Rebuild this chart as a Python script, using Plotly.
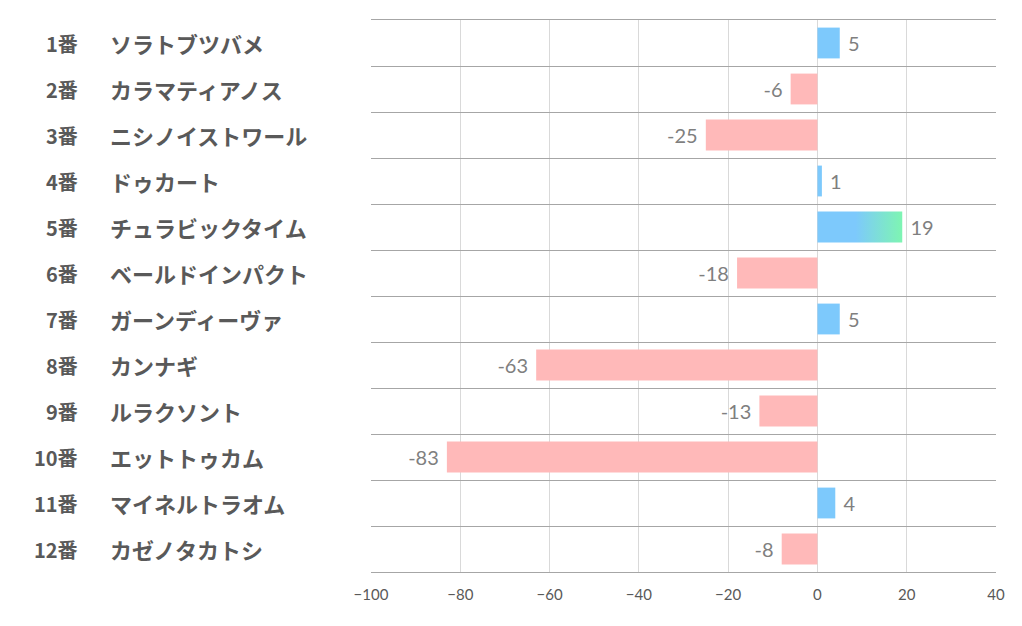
import plotly.graph_objects as go

numbers = ["1番", "2番", "3番", "4番", "5番", "6番", "7番", "8番", "9番", "10番", "11番", "12番"]
names = ["ソラトブツバメ", "カラマティアノス", "ニシノイストワール", "ドゥカート", "チュラビックタイム",
         "ベールドインパクト", "ガーンディーヴァ", "カンナギ", "ルラクソント", "エットトゥカム",
         "マイネルトラオム", "カゼノタカトシ"]
values = [5, -6, -25, 1, 19, -18, 5, -63, -13, -83, 4, -8]
gradient_index = 4
x_ticks = [-100, -80, -60, -40, -20, 0, 20, 40]

BLUE = "#7dc9fc"
PINK = "#ffb9b9"
GREEN = "#7ef5b2"
BAR_W = 0.67

idx = list(range(len(values)))
colors = []
labels = []
for i, v in enumerate(values):
    if i == gradient_index:
        colors.append("rgba(0,0,0,0)")
    else:
        colors.append(BLUE if v >= 0 else PINK)
    labels.append(" " + str(v) if v >= 0 else str(v) + " ")

fig = go.Figure()
fig.add_trace(go.Bar(
    x=values, y=idx, orientation="h", width=BAR_W,
    marker=dict(color=colors, line=dict(width=0)),
    text=labels, textposition="outside",
    textfont=dict(family="Lato, Open Sans, sans-serif", size=20, color="#7f7f7f"),
    cliponaxis=False, hoverinfo="skip",
))

gv = values[gradient_index]
fig.add_trace(go.Scatter(
    x=[0, gv, gv, 0, 0],
    y=[gradient_index - BAR_W / 2, gradient_index - BAR_W / 2,
       gradient_index + BAR_W / 2, gradient_index + BAR_W / 2, gradient_index - BAR_W / 2],
    mode="lines", line=dict(width=0), fill="toself",
    fillgradient=dict(type="horizontal",
                      colorscale=[[0, BLUE], [0.45, BLUE], [1, GREEN]]),
    hoverinfo="skip", showlegend=False,
))

annotations = []
for i in idx:
    annotations.append(dict(xref="paper", yref="y", x=-0.4656, y=i, text=numbers[i],
                            xanchor="right", yanchor="middle", showarrow=False,
                            font=dict(family="Noto Sans CJK JP", size=20, color="#595959",
                                      weight="bold")))
    annotations.append(dict(xref="paper", yref="y", x=-0.4208, y=i, text=names[i],
                            xanchor="left", yanchor="middle", showarrow=False,
                            font=dict(family="Noto Sans CJK JP", size=22, color="#595959",
                                      weight="bold")))

sep = [i - 0.5 for i in range(len(values) + 1)]

fig.update_layout(
    width=1006, height=600,
    margin=dict(l=363, r=18, t=12, b=36),
    plot_bgcolor="white", paper_bgcolor="white",
    showlegend=False, bargap=0.33,
    annotations=annotations,
    xaxis=dict(range=[-100, 40], tickvals=x_ticks, showgrid=True, gridcolor="#d9d9d9",
               gridwidth=1, zeroline=False, showline=True, mirror=True, linecolor="#a6a6a6",
               ticks="", ticklen=0, ticklabelstandoff=9, automargin=False,
               tickfont=dict(family="Lato, Open Sans, sans-serif", size=15, color="#595959")),
    yaxis=dict(range=[len(values) - 0.5, -0.5], tickvals=sep, showticklabels=False,
               showgrid=True, gridcolor="#a6a6a6", gridwidth=1, zeroline=False,
               showline=False, ticks="", automargin=False),
)

fig.write_html("out.html")
